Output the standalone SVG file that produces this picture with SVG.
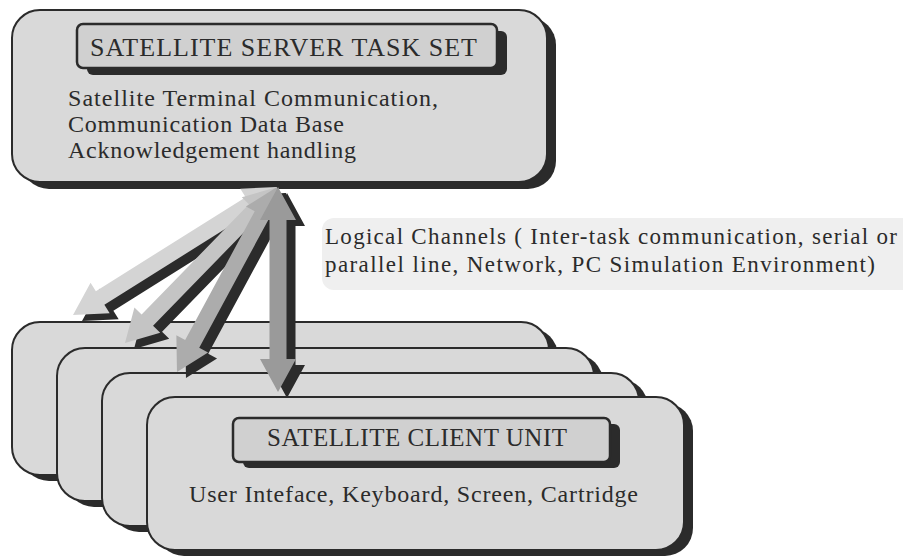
<svg xmlns="http://www.w3.org/2000/svg" width="903" height="556" viewBox="0 0 903 556">
<style>
.box{fill:#d9d9d9;stroke:#2b2b2b;stroke-width:2}
.shadow{fill:#2b2b2b}
.title{fill:#d0d0d0;stroke:#2b2b2b;stroke-width:2.5}
.t{font-family:"Liberation Serif","Times New Roman",serif;fill:#2b2b2b}
.ash{fill:#2b2b2b}
</style>
<rect width="903" height="556" fill="#ffffff"/>
<g id="server">
<rect class="shadow" x="21" y="17" width="535" height="172" rx="28"/>
<rect class="box" x="12" y="10" width="535" height="172" rx="28"/>
<rect class="shadow" x="87" y="31" width="420" height="44" rx="6"/>
<rect class="title" x="77" y="24" width="420" height="44" rx="6"/>
<text class="t" x="90" y="56" font-size="26" textLength="387" lengthAdjust="spacing">SATELLITE  SERVER  TASK SET</text>
<text class="t" x="68" y="106" font-size="24" textLength="370" lengthAdjust="spacing">Satellite Terminal  Communication,</text>
<text class="t" x="68" y="132" font-size="24" textLength="276" lengthAdjust="spacing">Communication Data Base</text>
<text class="t" x="68" y="158" font-size="24" textLength="288" lengthAdjust="spacing">Acknowledgement handling</text>
</g>
<g id="label">
<rect x="322" y="218" width="600" height="72" rx="12" fill="#efefef"/>
<text class="t" x="325" y="244" font-size="23" textLength="572" lengthAdjust="spacing">Logical Channels ( Inter-task communication, serial or</text>
<text class="t" x="325" y="272" font-size="23" textLength="550" lengthAdjust="spacing">parallel line, Network, PC Simulation Environment)</text>
</g>
<g id="client1">
<rect class="shadow" x="21" y="328" width="537" height="153" rx="28"/>
<rect class="box" x="12" y="322" width="537" height="153" rx="28"/>
</g>
<g id="client2">
<rect class="shadow" x="66" y="354" width="537" height="153" rx="28"/>
<rect class="box" x="57" y="348" width="537" height="153" rx="28"/>
</g>
<g id="client3">
<rect class="shadow" x="111" y="379" width="537" height="153" rx="28"/>
<rect class="box" x="102" y="373" width="537" height="153" rx="28"/>
</g>
<g id="client4">
<rect class="shadow" x="156" y="403" width="537" height="153" rx="28"/>
<rect class="box" x="147" y="397" width="537" height="153" rx="28"/>
<rect class="shadow" x="243" y="424" width="377" height="44" rx="6"/>
<rect class="title" x="233" y="418" width="377" height="44" rx="6"/>
<text class="t" x="267" y="446" font-size="25" textLength="300" lengthAdjust="spacing">SATELLITE CLIENT UNIT</text>
<text class="t" x="189" y="502" font-size="24" textLength="449" lengthAdjust="spacing">User Inteface, Keyboard, Screen, Cartridge</text>
</g>
<g id="connectors">
<g transform="translate(9,6)"><path class="ash" transform="translate(277,187) rotate(147.9)" d="M0,0 L32,-18 L32,-8 L208.8,-8 L208.8,-18 L240.8,0 L208.8,18 L208.8,8 L32,8 L32,18 Z"/></g>
<path fill="#d4d4d4" transform="translate(277,187) rotate(147.9)" d="M0,0 L32,-18 L32,-8 L208.8,-8 L208.8,-18 L240.8,0 L208.8,18 L208.8,8 L32,8 L32,18 Z"/>
<g transform="translate(9,6)"><path class="ash" transform="translate(277,187) rotate(134.26)" d="M0,0 L32,-18 L32,-8 L185.8,-8 L185.8,-18 L217.8,0 L185.8,18 L185.8,8 L32,8 L32,18 Z"/></g>
<path fill="#c4c4c4" transform="translate(277,187) rotate(134.26)" d="M0,0 L32,-18 L32,-8 L185.8,-8 L185.8,-18 L217.8,0 L185.8,18 L185.8,8 L32,8 L32,18 Z"/>
<g transform="translate(9,6)"><path class="ash" transform="translate(277,187) rotate(118.4)" d="M0,0 L32,-18 L32,-8 L178.3,-8 L178.3,-18 L210.3,0 L178.3,18 L178.3,8 L32,8 L32,18 Z"/></g>
<path fill="#acacac" transform="translate(277,187) rotate(118.4)" d="M0,0 L32,-18 L32,-8 L178.3,-8 L178.3,-18 L210.3,0 L178.3,18 L178.3,8 L32,8 L32,18 Z"/>
<g transform="translate(9,6)"><path class="ash" transform="translate(278,187) rotate(90)" d="M0,0 L33,-18 L33,-8.5 L172,-8.5 L172,-18 L205,0 L172,18 L172,8.5 L33,8.5 L33,18 Z"/></g>
<path fill="#9a9a9a" transform="translate(278,187) rotate(90)" d="M0,0 L33,-18 L33,-8.5 L172,-8.5 L172,-18 L205,0 L172,18 L172,8.5 L33,8.5 L33,18 Z"/>
</g>
</svg>
